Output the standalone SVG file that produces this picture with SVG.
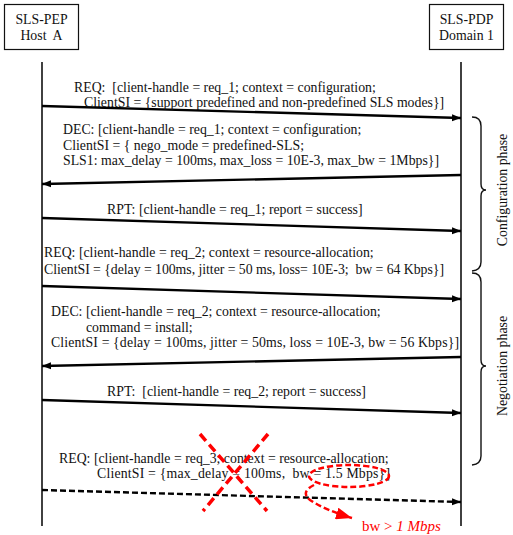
<svg xmlns="http://www.w3.org/2000/svg" width="513" height="535" viewBox="0 0 513 535" font-family="'Liberation Serif', 'DejaVu Serif', serif">
<style>
text{font-family:'Liberation Serif','DejaVu Serif',serif;font-size:13.8px;fill:#111;white-space:pre}
.box{fill:#fff;stroke:#111;stroke-width:1.2}
.life{stroke:#111;stroke-width:1.6;fill:none}
.msg{stroke:#000;stroke-width:2.4;fill:none}
.dash{stroke:#000;stroke-width:2.4;fill:none;stroke-dasharray:6 3}
.brace{stroke:#111;stroke-width:1.4;fill:none}
.red{stroke:#f00;fill:none;stroke-width:3.5;stroke-dasharray:9 5}
.redthin{stroke:#f00;fill:none;stroke-width:2.5;stroke-dasharray:6 3}
</style>
<defs>
<marker id="ah" markerUnits="userSpaceOnUse" markerWidth="10" markerHeight="8" refX="9" refY="4" orient="auto">
<path d="M0,0.5 L9,4 L0,7.5 Z" fill="#000"/>
</marker>
<marker id="ahr" markerUnits="userSpaceOnUse" markerWidth="18" markerHeight="12" refX="16" refY="6" orient="auto">
<path d="M0,0 L16,6 L0,12 Z" fill="#f00"/>
</marker>
</defs>
<rect width="513" height="535" fill="#fff"/>
<g id="pep">
<rect class="box" x="4.5" y="4.5" width="74" height="45"/>
<text x="41.5" y="24" text-anchor="middle">SLS-PEP</text>
<text x="41.5" y="40" text-anchor="middle">Host  A</text>
</g>
<g id="pdp">
<rect class="box" x="429.5" y="4.5" width="74" height="45"/>
<text x="466.5" y="24" text-anchor="middle">SLS-PDP</text>
<text x="466.5" y="40" text-anchor="middle">Domain 1</text>
</g>
<g id="lifelines">
<line class="life" x1="42" y1="62" x2="42" y2="526"/>
<line class="life" x1="461" y1="62" x2="461" y2="526"/>
</g>
<g id="connectors">
<line class="msg" x1="42" y1="106" x2="461" y2="118" marker-end="url(#ah)"/>
<line class="msg" x1="461" y1="175" x2="42" y2="184" marker-end="url(#ah)"/>
<line class="msg" x1="42" y1="218" x2="461" y2="231" marker-end="url(#ah)"/>
<line class="msg" x1="42" y1="286" x2="461" y2="299" marker-end="url(#ah)"/>
<line class="msg" x1="461" y1="357" x2="42" y2="366" marker-end="url(#ah)"/>
<line class="msg" x1="42" y1="400" x2="461" y2="413" marker-end="url(#ah)"/>
<line class="dash" x1="42" y1="490" x2="461" y2="502" marker-end="url(#ah)"/>
</g>
<g id="messages">
<text x="74" y="92">REQ:  [client-handle = req_1; context = configuration;</text>
<text x="84" y="107">ClientSI = {support predefined and non-predefined SLS modes}]</text>
<text x="63" y="134">DEC: [client-handle = req_1; context = configuration;</text>
<text x="63" y="150">ClientSI = { nego_mode = predefined-SLS;</text>
<text x="63" y="165">SLS1: max_delay = 100ms, max_loss = 10E-3, max_bw = 1Mbps}]</text>
<text x="107" y="214">RPT: [client-handle = req_1; report = success]</text>
<text x="44" y="257">REQ: [client-handle = req_2; context = resource-allocation;</text>
<text x="44" y="274" textLength="400" lengthAdjust="spacing">ClientSI = {delay = 100ms, jitter = 50 ms, loss= 10E-3;  bw = 64 Kbps}]</text>
<text x="51" y="316">DEC: [client-handle = req_2; context = resource-allocation;</text>
<text x="86" y="332">command = install;</text>
<text x="51" y="347" textLength="408" lengthAdjust="spacing">ClientSI = {delay = 100ms, jitter = 50ms, loss = 10E-3, bw = 56 Kbps}]</text>
<text x="107" y="396">RPT:  [client-handle = req_2; report = success]</text>
<text x="59" y="463">REQ: [client-handle = req_3; context = resource-allocation;</text>
<text x="97" y="478" textLength="293" lengthAdjust="spacing">ClientSI = {max_delay = 100ms,  bw = 1.5 Mbps}]</text>
</g>
<g id="config-phase">
<path class="brace" d="M472,117 Q481,117 481,126 L481,184 Q481,190 486,190 Q481,190 481,196 L481,262 Q481,270 472,271"/>
<text transform="translate(507,190) rotate(-90)" text-anchor="middle">Configuration phase</text>
</g>
<g id="nego-phase">
<path class="brace" d="M472,273 Q481,273 481,282 L481,360 Q481,366 486,366 Q481,366 481,372 L481,456 Q481,464 472,465"/>
<text transform="translate(507,366) rotate(-90)" text-anchor="middle">Negotiation phase</text>
</g>
<g id="annotation">
<line class="red" x1="200" y1="434" x2="267" y2="511"/>
<line class="red" x1="268" y1="434" x2="203" y2="511"/>
<ellipse class="redthin" cx="349" cy="476" rx="40" ry="11"/>
<path class="redthin" d="M314,485 Q300,492 310,500 Q325,510 352,518" marker-end="url(#ahr)"/>
<text x="362" y="531" style="fill:#f00;font-size:15px">bw &gt; <tspan font-style="italic">1 Mbps</tspan></text>
</g>
</svg>
